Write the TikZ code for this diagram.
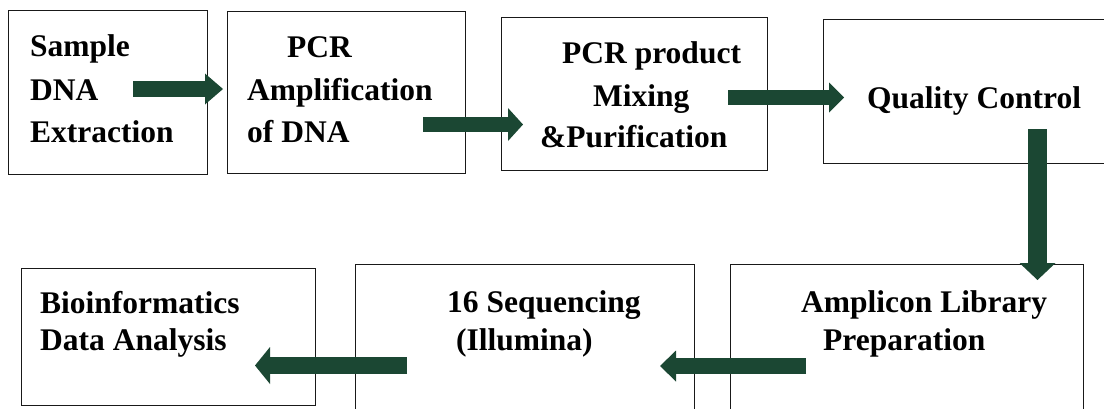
\documentclass[tikz,border=0pt]{standalone}
\usepackage{fontspec}
\setmainfont{Liberation Serif}
\usetikzlibrary{arrows.meta}
\definecolor{arrowgreen}{RGB}{27,71,51}
\definecolor{boxline}{RGB}{25,25,25}
\tikzset{
  box/.style={draw=boxline, line width=1.4pt, rectangle, inner sep=0pt, anchor=north west},
  txt/.style={inner sep=0pt, anchor=base west, font=\bfseries\fontsize{31.5}{43}\selectfont},
  blockarrow/.style={draw=arrowgreen, line width=#1},
}
\begin{document}
\begin{tikzpicture}[x=1pt,y=-1pt]
\useasboundingbox (0,0) rectangle (1104,408);
\clip (0,0) rectangle (1104,408);
\fill[white] (0,0) rectangle (1104,408);
% boxes
\node[box, minimum width=199pt, minimum height=164pt] (b1) at (8,10) {};
\node[box, minimum width=238pt, minimum height=162pt] (b2) at (227,11) {};
\node[box, minimum width=266pt, minimum height=153pt] (b3) at (501,17) {};
\node[box, minimum width=300pt, minimum height=144pt] (b4) at (823,19) {};
\node[box, minimum width=353pt, minimum height=170pt] (b5) at (730,264) {};
\node[box, minimum width=339pt, minimum height=170pt] (b6) at (355,264) {};
\node[box, minimum width=294pt, minimum height=137pt] (b7) at (21,268) {};
% texts
\node[txt] (t1a) at (30,56) {Sample};
\node[txt] (t1b) at (30,100) {DNA};
\node[txt] (t1c) at (30,142) {Extraction};
\node[txt] (t2a) at (287,57) {PCR};
\node[txt] (t2b) at (247,100) {Amplification};
\node[txt] (t2c) at (247,142) {of DNA};
\node[txt] (t3a) at (562,63) {PCR product};
\node[txt] (t3b) at (593,106) {Mixing};
\node[txt] (t3c) at (540,147) {\&Purification};
\node[txt] (t4a) at (867,108) {Quality Control};
\node[txt] (t5a) at (801,312) {Amplicon Library};
\node[txt] (t5b) at (823,350) {Preparation};
\node[txt] (t6a) at (447,312) {16 Sequencing};
\node[txt] (t6b) at (456,350) {(Illumina)};
\node[txt] (t7a) at (40,313) {Bioinformatics};
\node[txt] (t7b) at (40,350) {Data Analysis};
% arrow end points
\coordinate (a1s) at (133,89);    \coordinate (a1e) at (223,89);
\coordinate (a2s) at (423,124.5); \coordinate (a2e) at (523,124.5);
\coordinate (a3s) at (728,97.5);  \coordinate (a3e) at (844,97.5);
\coordinate (a4s) at (1037.5,129);\coordinate (a4e) at (1037.5,280);
\coordinate (a5s) at (806,366);   \coordinate (a5e) at (660,366);
\coordinate (a6s) at (407,365.5); \coordinate (a6e) at (255,365.5);
% arrows
\draw[blockarrow=16pt, -{Triangle[width=31pt,length=18pt,line width=0pt]}] (a1s) -- (a1e);
\draw[blockarrow=15pt, -{Triangle[width=33pt,length=15pt,line width=0pt]}] (a2s) -- (a2e);
\draw[blockarrow=15pt, -{Triangle[width=30pt,length=15pt,line width=0pt]}] (a3s) -- (a3e);
\draw[blockarrow=19pt, -{Triangle[width=36pt,length=17pt,line width=0pt]}] (a4s) -- (a4e);
\draw[blockarrow=16pt, -{Triangle[width=31pt,length=16pt,line width=0pt]}] (a5s) -- (a5e);
\draw[blockarrow=17pt, -{Triangle[width=37pt,length=15pt,line width=0pt]}] (a6s) -- (a6e);
\end{tikzpicture}
\end{document}
